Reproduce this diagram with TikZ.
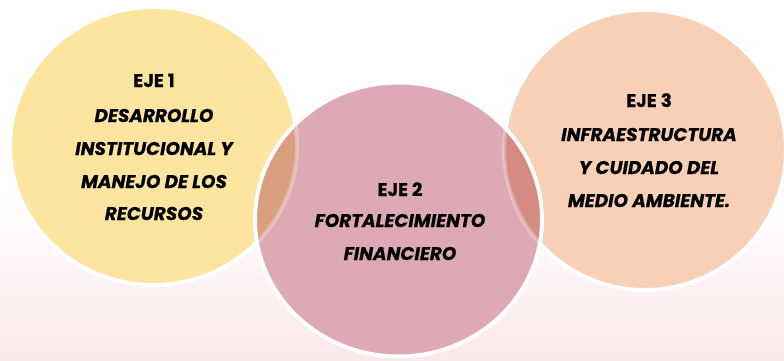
\documentclass[tikz,border=0pt]{standalone}
\usepackage{fontspec}
\setmainfont{Poppins}[BoldFeatures={FakeBold=0.6},BoldItalicFeatures={FakeBold=0.6}]
\definecolor{yellowc}{HTML}{FDE49F}
\definecolor{peachc}{HTML}{F7D0B5}
\definecolor{pinkc}{HTML}{DCA9B5}
\definecolor{ovleft}{HTML}{DA9F7F}
\definecolor{ovright}{HTML}{D68A84}
\definecolor{bgpink}{HTML}{FBE8EA}
\begin{document}
\begin{tikzpicture}[x=1pt,y=-1pt,
  ln/.style={anchor=base, inner sep=0pt, text=black, font=\fontsize{18.4}{22}\selectfont\bfseries\itshape},
  hd/.style={anchor=base, inner sep=0pt, text=black, font=\fontsize{18.4}{22}\selectfont\bfseries},
  ring/.style={draw=white, line width=4pt}]
\useasboundingbox (0,0) rectangle (784,361);
\fill[white] (0,0) rectangle (784,361);
\shade[top color=white, bottom color=bgpink] (0,190) rectangle (784,361);
% left and right circles
\path[fill=yellowc, ring] (153.5,146) ellipse [x radius=143.5pt, y radius=139pt];
\path[fill=peachc, ring] (645,150) ellipse [x radius=141pt, y radius=140pt];
% middle circle
\fill[pinkc] (398.5,219.5) ellipse [x radius=143.5pt, y radius=137pt];
\begin{scope}
  \clip (398.5,219.5) ellipse [x radius=143.5pt, y radius=137pt];
  \fill[ovleft] (153.5,146) ellipse [x radius=143.5pt, y radius=139pt];
  \fill[ovright] (645,150) ellipse [x radius=141pt, y radius=140pt];
  \draw[white, opacity=0.3, line width=4pt] (153.5,146) ellipse [x radius=143.5pt, y radius=139pt];
  \draw[white, opacity=0.3, line width=4pt] (645,150) ellipse [x radius=141pt, y radius=140pt];
\end{scope}
\draw[ring] (398.5,219.5) ellipse [x radius=143.5pt, y radius=137pt];
% texts
\node[hd] (a0) at (154,87) {EJE 1};
\node[ln] (a1) at (154,122) {DESARROLLO};
\node[ln] (a2) at (154,155) {INSTITUCIONAL Y};
\node[ln] (a3) at (154,188) {MANEJO DE LOS};
\node[ln] (a4) at (154,220) {RECURSOS};
\node[hd] (b0) at (400,196) {EJE 2};
\node[ln] (b1) at (400,227) {FORTALECIMIENTO};
\node[ln] (b2) at (400,260) {FINANCIERO};
\node[hd] (c0) at (649,107) {EJE 3};
\node[ln] (c1) at (649,141) {INFRAESTRUCTURA};
\node[ln] (c2) at (649,174) {Y CUIDADO DEL};
\node[ln] (c3) at (649,207) {MEDIO AMBIENTE.};
\end{tikzpicture}
\end{document}
